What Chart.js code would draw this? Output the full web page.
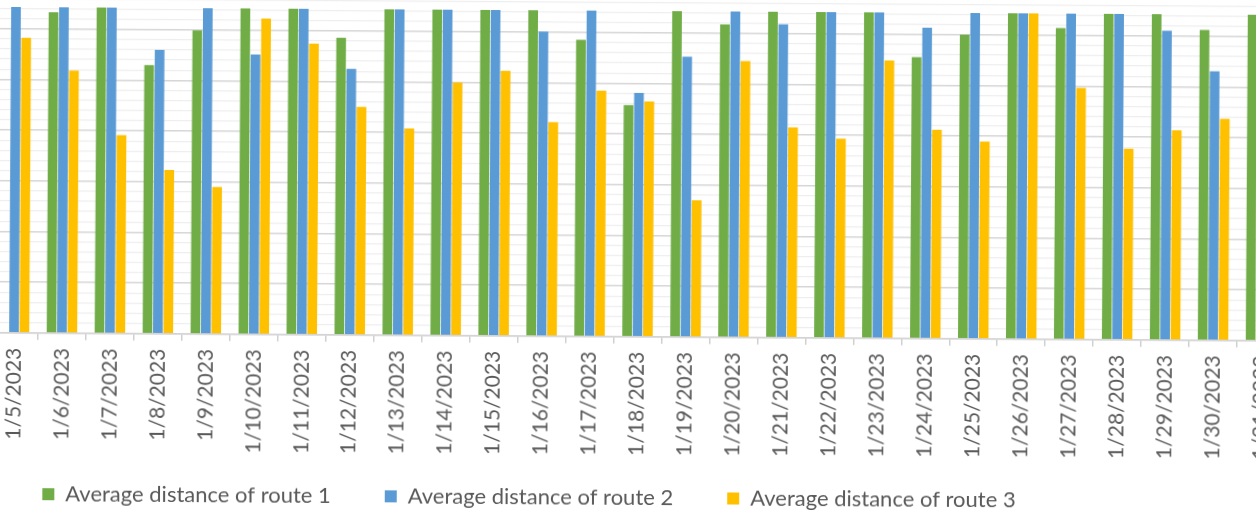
<!DOCTYPE html>
<html>
<head>
<meta charset="utf-8">
<script src="https://cdn.jsdelivr.net/npm/chart.js@4.4.1/dist/chart.umd.min.js"></script>
<style>
  html, body { margin: 0; padding: 0; background: #fff; }
  body { width: 1256px; height: 515px; overflow: hidden; position: relative; }
  /* the source picture is a slightly tilted crop of a wider chart */
  #routeChart {
    position: absolute;
    left: -225px;
    top: -22px;
    transform: rotate(0.36deg);
    transform-origin: 240px 355px;
  }
</style>
</head>
<body>
<canvas id="routeChart" width="1510" height="537"></canvas>
<script>
document.addEventListener("DOMContentLoaded", () => {

/* DATA */

const days = [
    "1/5/2023", "1/6/2023", "1/7/2023", "1/8/2023", "1/9/2023", "1/10/2023",
    "1/11/2023", "1/12/2023", "1/13/2023", "1/14/2023", "1/15/2023", "1/16/2023",
    "1/17/2023", "1/18/2023", "1/19/2023", "1/20/2023", "1/21/2023", "1/22/2023",
    "1/23/2023", "1/24/2023", "1/25/2023", "1/26/2023", "1/27/2023", "1/28/2023",
    "1/29/2023", "1/30/2023", "1/31/2023"
];

// null = bar falls outside the cropped picture
const route1 = [null, 63.3, 64.3, 53.0, 59.9, 64.3, 64.3, 58.6, 64.3, 64.3, 64.3, 64.3, 58.5, 45.7,
                64.3, 61.7, 64.3, 64.3, 64.3, 55.5, 60.0, 64.3, 61.4, 64.3, 64.3, 61.2, 64.3];
const route2 = [64.3, 64.3, 64.3, 56.0, 64.3, 55.2, 64.3, 52.5, 64.3, 64.3, 64.3, 60.1, 64.3, 48.1,
                55.3, 64.3, 61.8, 64.3, 64.3, 61.3, 64.3, 64.3, 64.3, 64.3, 61.0, 53.1, null];
const route3 = [58.2, 51.8, 39.1, 32.3, 29.0, 62.3, 57.4, 45.0, 40.8, 49.9, 52.3, 42.2, 48.5, 46.4,
                27.0, 54.5, 41.5, 39.3, 54.8, 41.2, 38.9, 64.3, 49.6, 37.7, 41.4, 43.7, null];

const seriesNames = [
    "Average distance of route 1",
    "Average distance of route 2",
    "Average distance of route 3"
];

const yMin = 0;
const yMax = 70;
const minorStep = 2;
const majorStep = 10;

/* CHART */

const textColor = "#595959";
const fontFamily = "Lato, 'Open Sans', sans-serif";

function bars(label, data, color) {
    return {
        label: label,
        data: data,
        backgroundColor: color,
        borderWidth: 0,
        categoryPercentage: 0.65,
        barPercentage: 0.93
    };
}

// x labels run down past the (short) axis box, so don't clip them to it
const noLabelClip = {
    id: "noLabelClip",
    beforeDraw(chart) {
        chart.scales.x._computeLabelArea = () => undefined;
    }
};

new Chart(document.getElementById("routeChart"), {
    type: "bar",
    data: {
        labels: days,
        datasets: [
            bars(seriesNames[0], route1, "#70AD47"),
            bars(seriesNames[1], route2, "#5B9BD5"),
            bars(seriesNames[2], route3, "#FFC000")
        ]
    },
    plugins: [noLabelClip],
    options: {
        responsive: false,
        animation: false,
        events: [],
        layout: { padding: 0 },
        plugins: {
            tooltip: { enabled: false },
            legend: {
                position: "bottom",
                labels: {
                    boxWidth: 12,
                    boxHeight: 12,
                    padding: 54,
                    color: textColor,
                    font: { family: fontFamily, size: 22 }
                }
            }
        },
        scales: {
            x: {
                grid: {
                    drawOnChartArea: false,
                    drawTicks: true,
                    tickLength: 7,
                    color: "#d0d0d0",
                    lineWidth: 1.5
                },
                border: { display: true, color: "#d3d3d3", width: 1.5 },
                ticks: {
                    autoSkip: false,
                    maxRotation: 90,
                    minRotation: 90,
                    padding: 8,
                    color: textColor,
                    font: { family: fontFamily, size: 21 }
                },
                afterFit: (scale) => {
                    scale.height = 96.3;
                    scale.paddingLeft = 0;
                    scale.paddingRight = 0;
                }
            },
            y: {
                min: yMin,
                max: yMax,
                ticks: { display: false, stepSize: minorStep },
                border: { display: false },
                grid: {
                    drawTicks: false,
                    color: (ctx) => ctx.tick.value % majorStep === 0 ? "#d6d6d6" : "#eeeeee",
                    lineWidth: (ctx) => ctx.tick.value % majorStep === 0 ? 1.6 : 1.2
                },
                afterFit: (scale) => {
                    scale.width = 215;
                    scale.paddingTop = 0;
                    scale.paddingBottom = 0;
                }
            }
        }
    }
});

});
</script>
</body>
</html>
